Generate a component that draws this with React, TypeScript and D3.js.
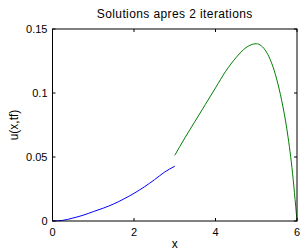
import React from "react"
import * as d3 from "d3"

// first iteration segment (blue) on [0, 3]
const xBlue = [0, 0.25, 0.5, 0.75, 1, 1.25, 1.5, 1.75, 2, 2.25, 2.5, 2.75, 3]
const uBlue = [0, 0.0005, 0.0023, 0.0045, 0.0073, 0.0101, 0.0133, 0.0172, 0.0216, 0.0266, 0.0322, 0.0382, 0.0428]

// second segment (green) on [3, 6]
const xGreen = [3, 3.25, 3.5, 3.75, 4, 4.25, 4.5, 4.75, 5, 5.25, 5.5, 5.625, 5.75, 5.875, 6]
const uGreen = [0.0513, 0.065, 0.078, 0.091, 0.104, 0.117, 0.1275, 0.1355, 0.1385, 0.132, 0.111, 0.094, 0.072, 0.042, 0]

const xTicks = [0, 2, 4, 6]
const yTicks = [0, 0.05, 0.1, 0.15]
const yTickLabels = ["0", "0.05", "0.1", "0.15"]

const W = 300
const H = 252
const margin = { top: 29, right: 3, bottom: 31, left: 52.5 }

export default function App() {
  const x = d3.scaleLinear().domain([0, 6]).range([margin.left, W - margin.right])
  const y = d3.scaleLinear().domain([0, 0.15]).range([H - margin.bottom, margin.top])

  const line = d3
    .line<[number, number]>()
    .x((d) => x(d[0]))
    .y((d) => y(d[1]))
    .curve(d3.curveMonotoneX)

  const blue = line(xBlue.map((v, i) => [v, uBlue[i]]))
  const green = line(xGreen.map((v, i) => [v, uGreen[i]]))

  const x0 = x(0)
  const x1 = x(6)
  const y0 = y(0)
  const y1 = y(0.15)
  const font = "'Liberation Sans', Arial, sans-serif"

  return (
    <svg
      width={W}
      height={H}
      style={{ position: "absolute", left: 0, top: 0, background: "#fff" }}
      fontFamily={font}
    >
      <rect x={0} y={0} width={W} height={H} fill="#fff" />
      <path d={blue ?? ""} fill="none" stroke="#0000ff" strokeWidth={1} />
      <path d={green ?? ""} fill="none" stroke="#008000" strokeWidth={1} />

      {xTicks.map((t) => (
        <g key={"x" + t}>
          <line x1={x(t)} x2={x(t)} y1={y0} y2={y0 - 3} stroke="#000" />
          <line x1={x(t)} x2={x(t)} y1={y1} y2={y1 + 3} stroke="#000" />
          <text x={x(t)} y={y0 + 15} textAnchor="middle" fontSize={11} fill="#000">
            {t}
          </text>
        </g>
      ))}
      {yTicks.map((t, i) => (
        <g key={"y" + t}>
          <line x1={x0} x2={x0 + 3} y1={y(t)} y2={y(t)} stroke="#000" />
          <line x1={x1} x2={x1 - 3} y1={y(t)} y2={y(t)} stroke="#000" />
          <text x={x0 - 5} y={y(t)} dy="0.35em" textAnchor="end" fontSize={11} fill="#000">
            {yTickLabels[i]}
          </text>
        </g>
      ))}

      <rect x={x0} y={y1} width={x1 - x0} height={y0 - y1} fill="none" stroke="#000" strokeWidth={1} />

      <text
        x={(x0 + x1) / 2}
        y={18}
        textAnchor="middle"
        fontSize={12}
        letterSpacing={0.4}
        fill="#000"
      >
        Solutions apres 2 iterations
      </text>
      <text x={(x0 + x1) / 2} y={248} textAnchor="middle" fontSize={12} fill="#000">
        x
      </text>
      <text
        transform={`translate(17.5,${(y0 + y1) / 2}) rotate(-90)`}
        textAnchor="middle"
        fontSize={12}
        fill="#000"
      >
        u(x,tf)
      </text>
    </svg>
  )
}
